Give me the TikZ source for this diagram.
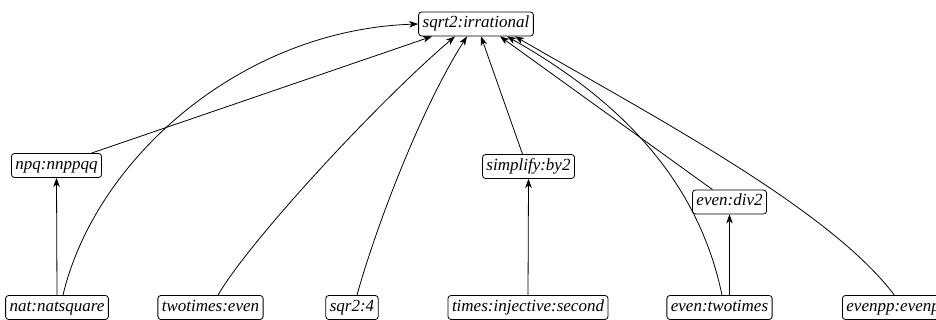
\documentclass[tikz,border=0pt]{standalone}
\usepackage{fontspec}
\setmainfont{Liberation Serif}
\newfontfamily\nodefont{Liberation Serif}[UprightFont=* Italic]
\usetikzlibrary{arrows.meta}
\begin{document}
\begin{tikzpicture}[x=1pt,y=1pt,
  box/.style={draw,rounded corners=3pt,line width=0.8pt,inner xsep=4pt,inner ysep=4pt,
    text height=12pt,text depth=4pt,font=\nodefont\fontsize{17}{20}\selectfont},
  edge/.style={line width=0.8pt,-{Stealth[length=9pt,width=6.5pt,inset=2.5pt]}}]
\useasboundingbox (0,0) rectangle (936,320);
\node[box] (top) at (476,296) {sqrt2:irrational};
\node[box] (npq) at (56.5,154.5) {npq:nnppqq};
\node[box] (simp) at (528.5,153.5) {simplify:by2};
\node[box] (div) at (729.5,118) {even:div2};
\node[box] (nat) at (57,12.5) {nat:natsquare};
\node[box] (tte) at (210.5,12.5) {twotimes:even};
\node[box] (sqr) at (352,12.5) {sqr2:4};
\node[box] (tis) at (528,12.5) {times:injective:second};
\node[box] (ett) at (719.5,12.5) {even:twotimes};
\node[box,anchor=west] (epp) at (842,12.5) {evenpp:evenpp};
% edges
\draw[edge] ([xshift=6pt]nat.north) .. controls (95,160) and (240,290) .. (top.west);
\draw[edge] (nat.north) -- (npq.south);
\draw[edge] ([xshift=35pt]npq.north) -- ([xshift=-44pt]top.south);
\draw[edge] ([xshift=7.5pt]tte.north) .. controls (250,80) and (380,220) .. ([xshift=-21pt]top.south);
\draw[edge] ([xshift=5pt]sqr.north) .. controls (375,90) and (420,210) .. ([xshift=-9pt]top.south);
\draw[edge] (tis.north) -- (simp.south);
\draw[edge] ([xshift=-6pt]simp.north) -- ([xshift=5pt]top.south);
\draw[edge] ([xshift=-17pt]div.north) -- ([xshift=24pt]top.south);
\draw[edge] ([xshift=2.5pt]ett.north) .. controls (698,140) and (620,220) .. ([xshift=31pt]top.south);
\draw[edge] (div.south |- ett.north) -- (div.south);
\draw[edge] ([xshift=-3pt]epp.north) .. controls (830,110) and (660,200) .. ([xshift=39pt]top.south);
\end{tikzpicture}
\end{document}
